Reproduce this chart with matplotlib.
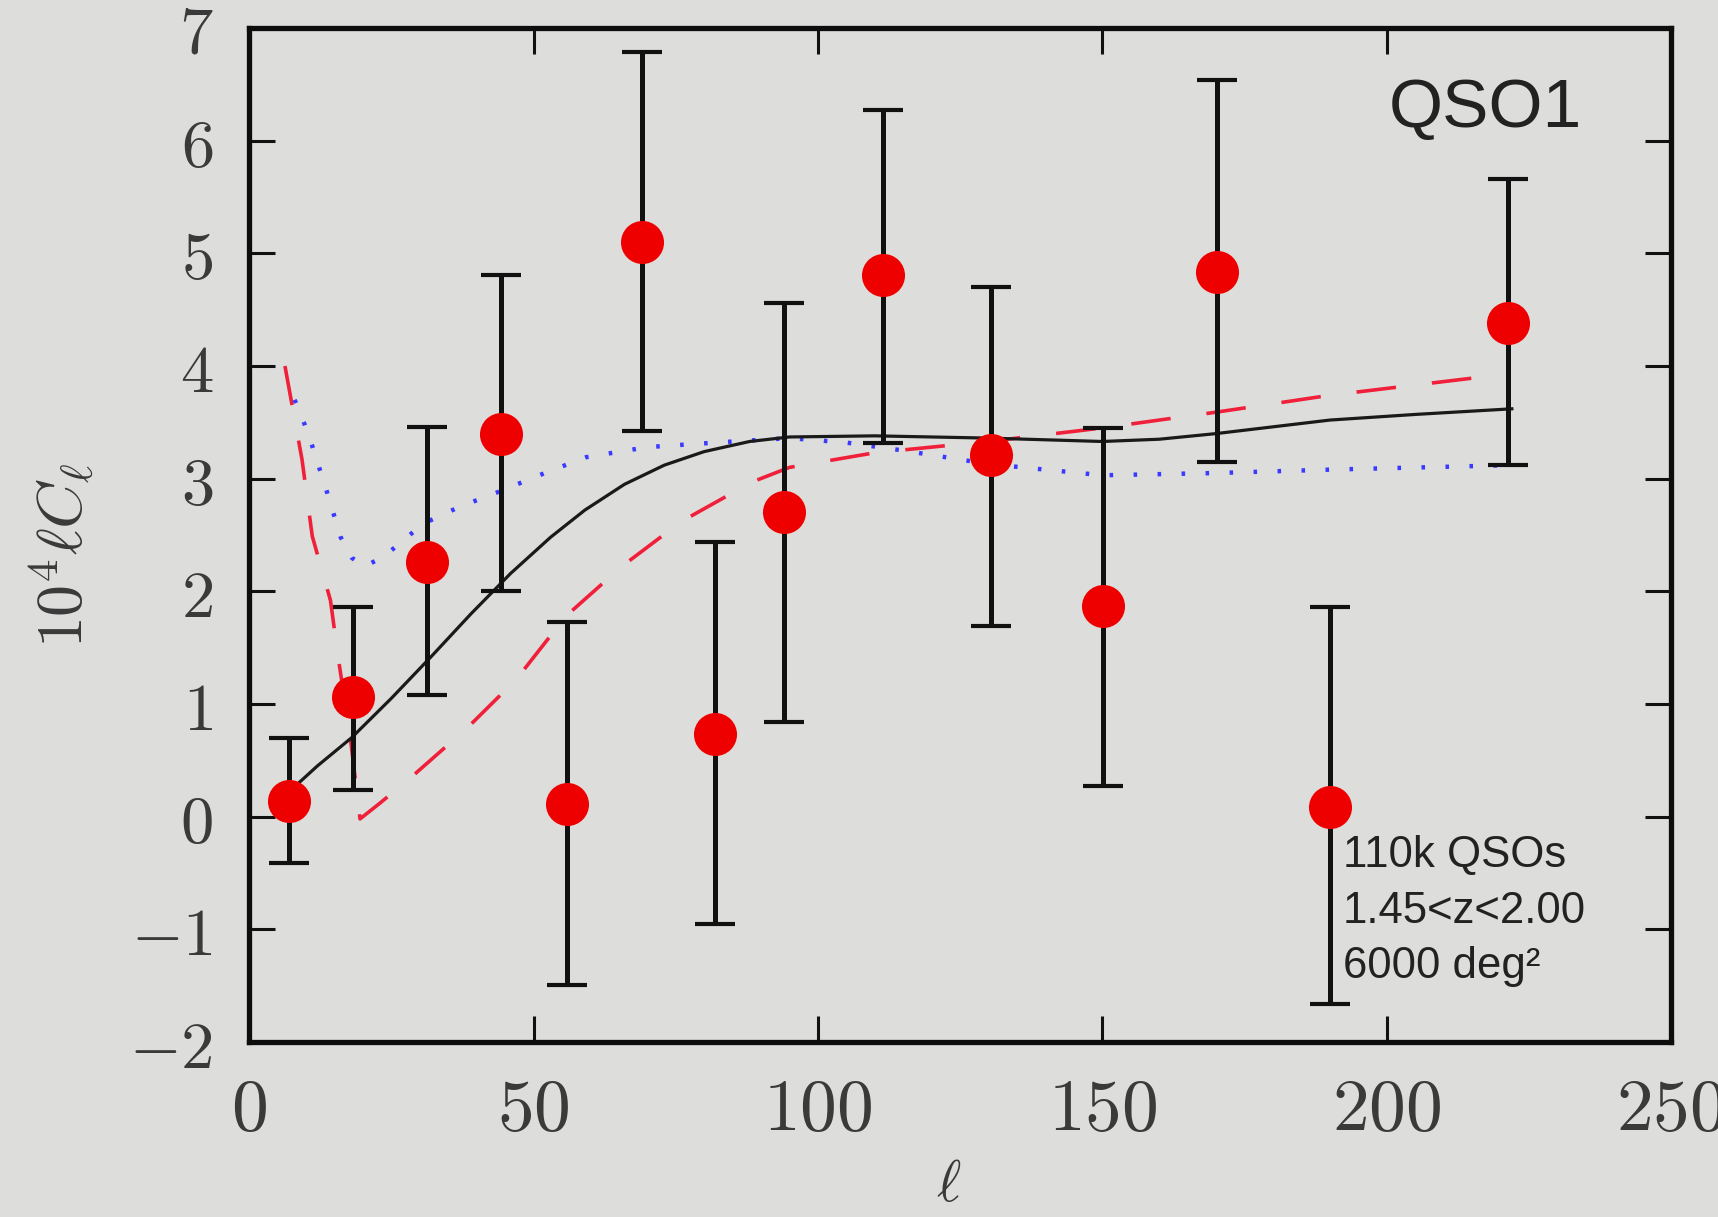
import matplotlib
matplotlib.use("Agg")
import matplotlib.pyplot as plt
from matplotlib.ticker import FuncFormatter, MultipleLocator
import numpy as np

plt.rcParams['mathtext.fontset'] = 'cm'

# Measured angular power spectrum bins
ell = [7.1, 18.3, 31.3, 44.2, 55.9, 69.0, 81.9, 94.0, 111.5, 130.5, 150.1, 170.1, 190.0, 221.4]
cl = [0.14, 1.06, 2.26, 3.40, 0.11, 5.10, 0.73, 2.70, 4.81, 3.21, 1.87, 4.83, 0.09, 4.38]
err_lo = [0.55, 0.82, 1.18, 1.40, 1.60, 1.68, 1.68, 1.86, 1.49, 1.52, 1.60, 1.68, 1.75, 1.26]
err_hi = [0.56, 0.80, 1.20, 1.41, 1.62, 1.69, 1.71, 1.86, 1.46, 1.49, 1.58, 1.71, 1.77, 1.28]

# Model curves
ell_solid = [7, 12, 18, 25, 32, 39, 46, 53, 59, 66, 73, 80, 88, 95, 110, 130, 150, 160, 170, 180, 190, 205, 222]
cl_solid = [0.22, 0.45, 0.70, 1.05, 1.42, 1.80, 2.16, 2.48, 2.72, 2.95, 3.12, 3.24, 3.33, 3.37, 3.38, 3.36, 3.33, 3.35, 3.40, 3.46, 3.52, 3.57, 3.62]

ell_dash = [6.3, 9.3, 11.1, 14.3, 15.7, 17.8, 19.5, 23, 28.5, 38.4, 47, 55.7, 65.5, 76, 88.4, 95, 110, 130, 150, 170, 190, 218]
cl_dash = [4.0, 3.17, 2.49, 1.92, 1.40, 0.70, -0.02, 0.12, 0.35, 0.79, 1.22, 1.78, 2.22, 2.62, 2.97, 3.10, 3.23, 3.33, 3.45, 3.59, 3.74, 3.91]

ell_dot = [8.0, 9.7, 11.1, 13.7, 16.1, 18, 20.1, 23.5, 30.6, 37, 43.7, 52, 59.2, 70, 82, 95, 105, 115, 130, 150, 170, 190, 222]
cl_dot = [3.70, 3.49, 3.29, 2.88, 2.48, 2.30, 2.22, 2.30, 2.60, 2.75, 2.88, 3.05, 3.19, 3.28, 3.32, 3.36, 3.32, 3.25, 3.13, 3.03, 3.05, 3.08, 3.12]

sample_name = "QSO1"
sample_info = ["110k QSOs", "1.45<z<2.00", "6000 deg²"]

bg = '#dddedb'
fig = plt.figure(figsize=(17.18, 12.17), dpi=100, facecolor=bg)
ax = fig.add_axes([0.145, 0.1438, 0.8277, 0.8332], facecolor=bg)

ax.plot(ell_dash, cl_dash, color='#f0203a', lw=2.6, linestyle=(0, (11, 10)), zorder=2)
ax.plot(ell_dot, cl_dot, color='#3a3aff', lw=3.2, linestyle=(0, (0.8, 4.6)), zorder=2)
ax.plot(ell_solid, cl_solid, color='#1a1a1a', lw=2.3, zorder=3)

ax.errorbar(ell, cl, yerr=[err_lo, err_hi], fmt='none', ecolor='#111111',
            elinewidth=3.6, capsize=14.5, capthick=3.0, zorder=4)
ax.plot(ell, cl, 'o', color='#ee0000', markersize=31, markeredgewidth=0, zorder=5)

ax.set_xlim(0, 250)
ax.set_ylim(-2, 7)
ax.xaxis.set_major_locator(MultipleLocator(50))
ax.yaxis.set_major_locator(MultipleLocator(1))
fmt = FuncFormatter(lambda v, p: f'${v:g}$')
ax.xaxis.set_major_formatter(fmt)
ax.yaxis.set_major_formatter(fmt)

ax.tick_params(axis='both', which='major', direction='in', top=True, right=True,
               length=19, width=2.2, color='#111111', labelcolor='#3a3a3a')
ax.tick_params(axis='x', labelsize=53, pad=22)
ax.tick_params(axis='y', labelsize=48, pad=26)
for s in ax.spines.values():
    s.set_linewidth(3.8)
    s.set_color('#0d0d0d')

ax.set_xlabel(r'$\ell$', fontsize=42, color='#3a3a3a')
ax.xaxis.set_label_coords(0.4916, -0.112)
ax.xaxis.label.set_va('top')
ax.set_ylabel(r'$10^4\ell C_\ell$', fontsize=46, color='#3a3a3a')
ax.yaxis.set_label_coords(-0.108, 0.48)

ax.text(234.4, 6.12, sample_name, fontsize=50, family='Liberation Sans',
        color='#222222', ha='right', va='baseline')
for i, line in enumerate(sample_info):
    ax.text(192.3, -0.447 - 0.493 * i, line, fontsize=31.5, family='Liberation Sans',
            color='#222222', ha='left', va='baseline')

fig.savefig('out.png', dpi=100, facecolor=bg)
